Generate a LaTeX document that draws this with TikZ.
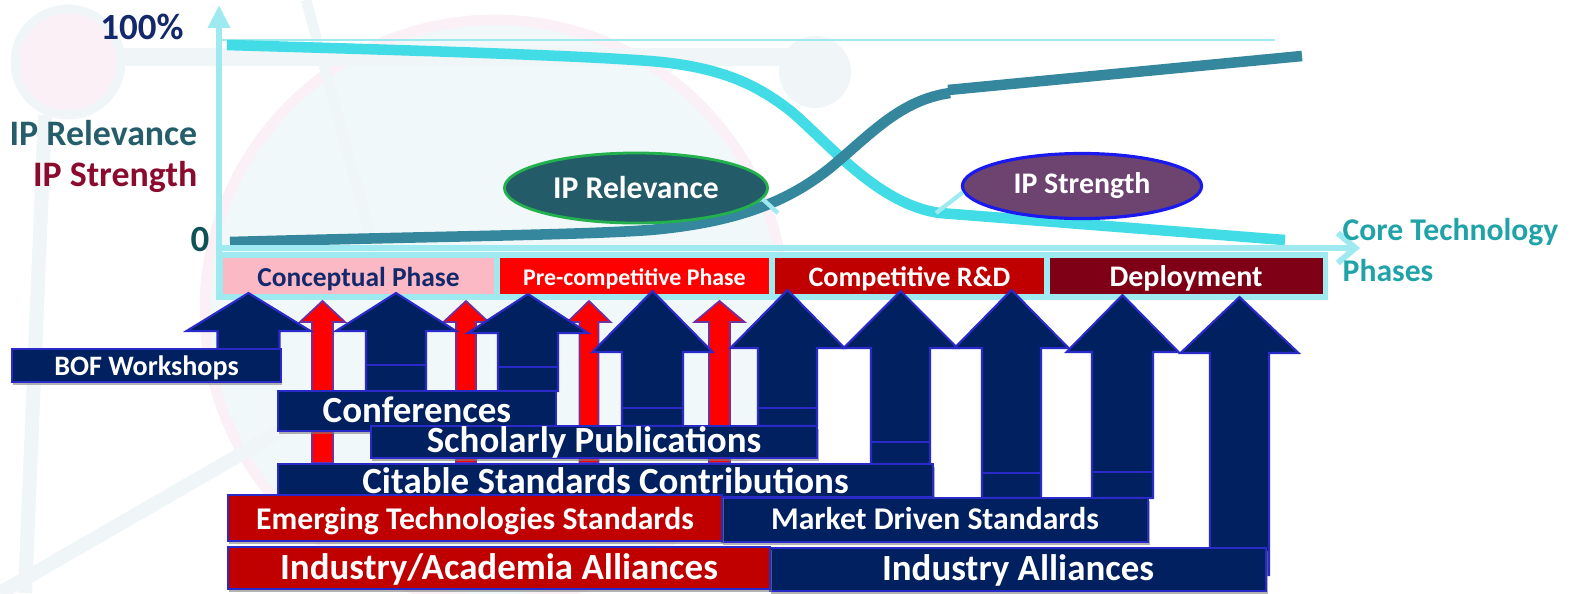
\documentclass[tikz,border=0pt]{standalone}
\usepackage{fontspec}
\setmainfont{Carlito}
\usetikzlibrary{shapes.geometric,arrows.meta,shadows}

\definecolor{axiscyan}{HTML}{9EEAF0}
\definecolor{strcyan}{HTML}{42DCE6}
\definecolor{relteal}{HTML}{34879D}
\definecolor{navy}{HTML}{002060}
\definecolor{edgeblue}{HTML}{2A2AC8}
\definecolor{edgepurple}{HTML}{7030A0}
\definecolor{brightred}{HTML}{FF0000}
\definecolor{darkred}{HTML}{C00000}
\definecolor{maroon}{HTML}{7F0016}
\definecolor{phasepink}{HTML}{FBB9C6}
\definecolor{navytext}{HTML}{14296B}
\definecolor{labteal}{HTML}{255E6A}
\definecolor{labred}{HTML}{8B0B2F}
\definecolor{zeroteal}{HTML}{0E5258}
\definecolor{coreteal}{HTML}{1FA3A8}
\definecolor{relfill}{HTML}{235B69}
\definecolor{relring}{HTML}{22B14C}
\definecolor{strfill}{HTML}{6D4370}
\definecolor{strring}{HTML}{1A1AEE}
\definecolor{wmpink}{HTML}{FAF0F5}
\definecolor{wmgray}{HTML}{F0F5F7}
\definecolor{wmblue}{HTML}{F1F8FA}

\newcommand{\fsz}[1]{\fontsize{#1}{#1}\selectfont}
% up block arrow: [style]{x}{tip y}{head half}{head base y}{shaft half}{bottom y}
\newcommand{\blockup}[7][]{%
  \draw[#1] (#2,#3) -- ({#2+#4},#5) -- ({#2+#6},#5) -- ({#2+#6},#7)
    -- ({#2-#6},#7) -- ({#2-#6},#5) -- ({#2-#4},#5) -- cycle;}

\begin{document}
\begin{tikzpicture}[x=0.01cm, y=-0.01cm, font=\bfseries,
  navyarrow/.style={draw=edgeblue, fill=navy, line width=0.6pt},
  redarrow/.style={draw=edgepurple, fill=brightred, line width=0.5pt},
  navybox/.style={draw=edgeblue, fill=navy, text=white, line width=0.6pt,
    inner sep=0pt, text depth=0pt, text height=6.8pt,
    drop shadow={shadow xshift=0.4pt, shadow yshift=-0.9pt, opacity=0.6}},
  redbox/.style={navybox, fill=darkred},
  phase/.style={draw=axiscyan, line width=0.9pt, inner sep=0pt, minimum height=0.4cm,
    text depth=0pt, text height=6.2pt},
  curve/.style={line width=3pt},
  callout/.style={draw=axiscyan, line width=1.2pt},
  bubble/.style={ellipse, text=white, inner sep=0pt},
  axislab/.style={inner sep=0pt, font=\bfseries\fsz{10.5}}]
\useasboundingbox (0,0) rectangle (1572,593);

% faint logo in the background
\fill[wmblue] (495,310) circle (2.9cm);
\draw[wmpink, line width=3pt] (495,310) circle (2.9cm);
\draw[wmgray, line width=5pt] (120,57) -- (790,57);
\draw[wmgray, line width=4pt] (45,115) -- (25,593);
\draw[wmgray, line width=4pt] (0,593) -- (300,420);
\draw[wmgray, line width=3pt] (306,0) -- (388,300);
\fill[wmgray] (815,72) circle (0.36cm);
\filldraw[fill=wmpink, draw=wmgray, line width=2.5pt] (68,62) circle (0.53cm);

% chart
\coordinate (origin) at (219,300);
\coordinate (ytop) at (219,5);
\coordinate (xstart) at (219,248);
\coordinate (xend) at (1360,248);
\draw[axiscyan, line width=0.6pt] (219,40) -- (1275,40);
\draw[curve, strcyan] (227,45) .. controls (400,50) and (570,55) .. (650,61)
  .. controls (725,67) and (760,87) .. (792,112)
  .. controls (832,147) and (880,205) .. (940,213) -- (1285,240);
\draw[curve, relteal] (230,242) .. controls (450,236) and (580,235) .. (650,230)
  .. controls (740,222) and (790,200) .. (830,168)
  .. controls (870,135) and (900,100) .. (950,93);
\draw[curve, relteal] (948,90) -- (1302,56);

\node[bubble, fill=relfill, draw=relring, line width=0.8pt,
  minimum width=2.63cm, minimum height=0.7cm, font=\bfseries\fsz{9}] (rel) at (636,188) {IP Relevance};
\node[bubble, fill=strfill, draw=strring, line width=0.9pt,
  minimum width=2.39cm, minimum height=0.65cm, font=\bfseries\fsz{8.5}] (str) at (1082,186) {IP Strength};
\coordinate (relpt) at (778,213);
\coordinate (strpt) at (936,213);
\draw[callout] (rel.-5.5) -- (relpt);
\draw[callout] (str.183) -- (strpt);

\draw[axiscyan, line width=1.7pt, -{Triangle[length=6.5pt, width=6pt]}] (origin) -- (ytop);
\draw[axiscyan, line width=1.7pt, -{Straight Barb[length=5pt, width=8.5pt]}] (xstart) -- (xend);

% phases
\fill[axiscyan] (217,252) rectangle (1328,300);
\node[phase, fill=phasepink, text=navytext, minimum width=2.74cm,
  font=\bfseries\fsz{7.8}] (concept) at (358.5,276) {Conceptual Phase};
\node[phase, fill=brightred, text=white, minimum width=2.72cm, text height=5.2pt,
  font=\bfseries\fsz{6.8}] (precomp) at (634.5,276) {Pre-competitive Phase};
\node[phase, fill=darkred, text=white, minimum width=2.72cm,
  font=\bfseries\fsz{8}] (comp) at (909.5,276) {Competitive R\&D};
\node[phase, fill=maroon, text=white, minimum width=2.76cm,
  font=\bfseries\fsz{8.5}] (deploy) at (1186,276) {Deployment};

% arrows
\blockup[redarrow]{322.5}{301}{22.5}{322}{10.5}{463}
\blockup[redarrow]{466}{301}{22.5}{322}{10}{463}
\blockup[redarrow]{589}{301}{21.5}{322}{9.5}{463}
\blockup[redarrow]{719.5}{301}{25}{322}{10.5}{463}

\blockup[navyarrow]{248.5}{293}{62}{331}{31}{350}
\blockup[navyarrow]{396}{293}{60}{331}{30}{391}
\blockup[navyarrow]{528}{294}{60}{333}{30}{391}
\blockup[navyarrow]{652.5}{291}{60}{352}{30.5}{426}
\blockup[navyarrow]{787.5}{290}{57}{348}{29.5}{426}
\blockup[navyarrow]{900.5}{291}{57}{348}{29.5}{464}
\blockup[navyarrow]{1011.5}{290}{57}{348}{29.5}{498}
\blockup[navyarrow]{1122.5}{295}{56}{352}{30.5}{498}
\blockup[navyarrow]{1239.5}{297}{59}{353}{29.5}{575}
\draw[navyarrow] (366,365) -- (426,365);
\draw[navyarrow] (498,367) -- (558,367);
\draw[navyarrow] (622,408) -- (683,408);
\draw[navyarrow] (758,408) -- (817,408);
\draw[navyarrow] (871,442) -- (930,442);
\draw[navyarrow] (982,473) -- (1041,473);
\draw[navyarrow] (1092,472) -- (1153,472);

% activities
\node[navybox, minimum width=2.69cm, minimum height=0.33cm, text height=5.4pt,
  font=\bfseries\fsz{8}] (bof) at (146.5,365.5) {BOF Workshops};
\node[navybox, minimum width=2.78cm, minimum height=0.4cm,
  font=\bfseries\fsz{10.5}] (conf) at (417,411) {Conferences};
\node[navybox, minimum width=4.46cm, minimum height=0.32cm, text height=6.2pt,
  font=\bfseries\fsz{10.5}] (schol) at (594,442) {Scholarly Publications};
\node[navybox, minimum width=6.55cm, minimum height=0.33cm, text height=7.2pt,
  font=\bfseries\fsz{10.5}] (cite) at (605.5,480.5) {Citable Standards Contributions};
\node[navybox, minimum width=4.26cm, minimum height=0.44cm, text height=5.6pt,
  font=\bfseries\fsz{9}] (market) at (935,520) {Market Driven Standards};
\node[redbox, minimum width=4.94cm, minimum height=0.46cm,
  font=\bfseries\fsz{9}] (emerg) at (475,518) {Emerging Technologies Standards};
\node[navybox, minimum width=4.96cm, minimum height=0.43cm, text height=6pt,
  font=\bfseries\fsz{10.5}] (ia) at (1018,569.5) {Industry Alliances};
\node[redbox, minimum width=5.42cm, minimum height=0.42cm,
  font=\bfseries\fsz{10.5}] (iaa) at (499,568) {Industry/Academia Alliances};

% axis labels
\node[axislab, text=navytext] (full) at (142,27) {100\%};
\node[axislab, text=zeroteal] (zero) at (200,240) {0};
\node[axislab, anchor=east, text=labteal, font=\bfseries\fsz{10.2}] (rellab) at (198,133) {IP Relevance};
\node[axislab, anchor=east, text=labred, font=\bfseries\fsz{10.2}] (strlab) at (198,177) {IP Strength};
\node[axislab, anchor=west, text=coreteal, font=\bfseries\fsz{9}] (core) at (1342,232) {Core Technology};
\node[axislab, anchor=west, text=coreteal, font=\bfseries\fsz{9}] (phases) at (1342,270) {Phases};
\end{tikzpicture}
\end{document}
